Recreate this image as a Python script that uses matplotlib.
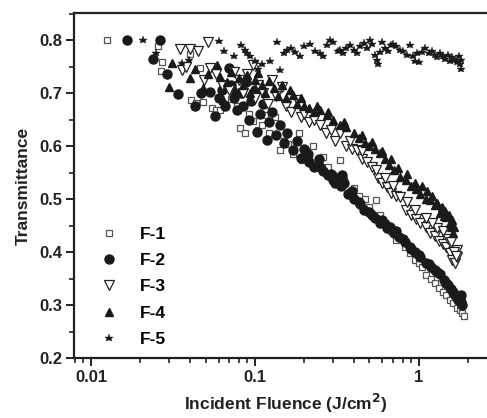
import matplotlib
matplotlib.use("Agg")
import matplotlib.pyplot as plt
from matplotlib.ticker import FixedLocator, FuncFormatter, MultipleLocator

plt.rcParams['font.family'] = ['Liberation Sans', 'DejaVu Sans']
plt.rcParams['font.weight'] = 'bold'

# --- data (fluence in J/cm^2, transmittance) ---
f1_x = [0.0125, 0.0256, 0.0267, 0.0271, 0.040, 0.046, 0.041, 0.044, 0.048, 0.055,
        0.058, 0.061, 0.066, 0.072, 0.078, 0.081, 0.087, 0.092, 0.098, 0.104,
        0.110, 0.115, 0.122, 0.132, 0.142, 0.150, 0.160, 0.170, 0.185, 0.194,
        0.205, 0.215, 0.225, 0.240, 0.260, 0.280, 0.300, 0.330, 0.350, 0.380,
        0.400, 0.430, 0.470, 0.500, 0.550, 0.580, 0.620, 0.680, 0.730, 0.770,
        0.820, 0.880, 0.950, 1.00, 1.05, 1.10, 1.18, 1.25, 1.32, 1.40,
        1.47, 1.55, 1.62, 1.70, 1.78, 1.83, 1.88]
f1_y = [0.800, 0.789, 0.741, 0.758, 0.774, 0.747, 0.687, 0.682, 0.683, 0.672,
        0.668, 0.668, 0.680, 0.689, 0.676, 0.634, 0.625, 0.660, 0.648, 0.630,
        0.640, 0.659, 0.625, 0.655, 0.592, 0.610, 0.603, 0.585, 0.625, 0.574,
        0.590, 0.580, 0.600, 0.565, 0.580, 0.560, 0.545, 0.574, 0.535, 0.513,
        0.520, 0.505, 0.500, 0.485, 0.498, 0.470, 0.455, 0.440, 0.423, 0.426,
        0.410, 0.398, 0.385, 0.379, 0.372, 0.357, 0.350, 0.341, 0.333, 0.325,
        0.319, 0.310, 0.303, 0.294, 0.290, 0.285, 0.279]

f2_x = [0.0165, 0.0262, 0.0239, 0.029, 0.034, 0.043, 0.047, 0.053, 0.057, 0.060,
        0.063, 0.066, 0.070, 0.072, 0.075, 0.078, 0.082, 0.085, 0.088, 0.092,
        0.095, 0.100, 0.103, 0.107, 0.112, 0.118, 0.122, 0.128, 0.135, 0.142,
        0.150, 0.158, 0.170, 0.180, 0.190, 0.200, 0.215, 0.230, 0.245, 0.260,
        0.280, 0.300, 0.320, 0.335, 0.350, 0.370, 0.400, 0.430, 0.460, 0.500,
        0.540, 0.580, 0.620, 0.666, 0.710, 0.760, 0.820, 0.880, 0.950, 1.02,
        1.10, 1.18, 1.25, 1.34, 1.42, 1.50, 1.58, 1.66, 1.74, 1.80, 1.84,
        0.21, 0.25, 0.29, 0.31, 0.34, 0.39, 0.44, 0.52, 0.60, 0.64,
        0.73, 0.80, 0.90, 1.00, 1.15, 1.30, 1.46, 1.62, 1.70, 1.78, 1.82]
f2_y = [0.800, 0.800, 0.764, 0.736, 0.698, 0.675, 0.700, 0.702, 0.657, 0.690,
        0.705, 0.676, 0.747, 0.715, 0.690, 0.668, 0.700, 0.675, 0.720, 0.650,
        0.685, 0.705, 0.626, 0.660, 0.680, 0.611, 0.645, 0.665, 0.621, 0.640,
        0.605, 0.625, 0.592, 0.610, 0.578, 0.595, 0.570, 0.560, 0.575, 0.552,
        0.545, 0.535, 0.540, 0.525, 0.530, 0.510, 0.500, 0.495, 0.480, 0.475,
        0.465, 0.455, 0.452, 0.447, 0.435, 0.428, 0.418, 0.410, 0.400, 0.390,
        0.380, 0.372, 0.366, 0.358, 0.347, 0.338, 0.330, 0.318, 0.310, 0.305, 0.300,
        0.585, 0.560, 0.548, 0.530, 0.545, 0.515, 0.490, 0.470, 0.460, 0.445,
        0.440, 0.425, 0.405, 0.395, 0.378, 0.362, 0.342, 0.325, 0.315, 0.312, 0.318]

f3_x = [0.035, 0.036, 0.038, 0.040, 0.045, 0.049, 0.052, 0.053, 0.058, 0.063,
        0.070, 0.075, 0.080, 0.085, 0.090, 0.097, 0.100, 0.105, 0.112, 0.120,
        0.127, 0.135, 0.146, 0.155, 0.165, 0.180, 0.190, 0.200, 0.215, 0.230,
        0.250, 0.270, 0.290, 0.310, 0.330, 0.360, 0.390, 0.420, 0.450, 0.480,
        0.520, 0.560, 0.600, 0.640, 0.680, 0.730, 0.770, 0.840, 0.900, 0.960,
        1.02, 1.10, 1.17, 1.25, 1.32, 1.40, 1.47, 1.55, 1.60, 1.67, 1.70, 1.72,
        1.30, 1.40, 1.50, 1.58, 1.64, 1.68, 1.20, 1.10, 0.95, 0.85,
        0.70, 0.62, 0.55, 0.45, 0.38]
f3_y = [0.783, 0.743, 0.750, 0.783, 0.779, 0.725, 0.796, 0.747, 0.735, 0.715,
        0.706, 0.740, 0.725, 0.700, 0.735, 0.753, 0.690, 0.715, 0.700, 0.680,
        0.725, 0.695, 0.711, 0.675, 0.665, 0.687, 0.655, 0.660, 0.645, 0.650,
        0.640, 0.625, 0.630, 0.610, 0.625, 0.600, 0.595, 0.592, 0.575, 0.570,
        0.560, 0.540, 0.530, 0.523, 0.512, 0.505, 0.504, 0.479, 0.470, 0.462,
        0.455, 0.448, 0.436, 0.430, 0.420, 0.415, 0.410, 0.398, 0.385, 0.379, 0.404, 0.390,
        0.445, 0.440, 0.425, 0.418, 0.400, 0.392, 0.455, 0.465, 0.480, 0.495,
        0.525, 0.540, 0.555, 0.590, 0.610]

f4_x = [0.030, 0.031, 0.040, 0.043, 0.048, 0.052, 0.059, 0.061, 0.064, 0.068,
        0.072, 0.076, 0.080, 0.085, 0.089, 0.094, 0.100, 0.104, 0.110, 0.116,
        0.122, 0.130, 0.138, 0.146, 0.155, 0.163, 0.170, 0.180, 0.190, 0.200,
        0.215, 0.230, 0.250, 0.275, 0.300, 0.330, 0.360, 0.400, 0.430, 0.470,
        0.500, 0.540, 0.580, 0.620, 0.660, 0.710, 0.770, 0.830, 0.900, 0.960,
        1.02, 1.10, 1.17, 1.25, 1.34, 1.42, 1.47, 1.55, 1.60, 1.62, 1.65,
        1.30, 1.38, 1.45, 1.52, 1.58, 1.20, 1.12, 1.05, 0.95, 0.85,
        0.75, 0.68, 0.60, 0.52, 0.45, 0.35, 0.28, 0.24]
f4_y = [0.711, 0.757, 0.728, 0.745, 0.709, 0.735, 0.753, 0.730, 0.687, 0.720,
        0.740, 0.705, 0.728, 0.715, 0.734, 0.700, 0.725, 0.738, 0.715, 0.700,
        0.722, 0.710, 0.695, 0.715, 0.690, 0.706, 0.696, 0.680, 0.690, 0.675,
        0.672, 0.665, 0.668, 0.658, 0.650, 0.640, 0.635, 0.625, 0.615, 0.605,
        0.600, 0.595, 0.587, 0.575, 0.565, 0.555, 0.542, 0.535, 0.525, 0.518,
        0.510, 0.500, 0.498, 0.488, 0.474, 0.468, 0.466, 0.455, 0.460, 0.436, 0.448,
        0.492, 0.485, 0.478, 0.470, 0.448, 0.505, 0.515, 0.525, 0.530, 0.548,
        0.558, 0.575, 0.590, 0.608, 0.620, 0.645, 0.665, 0.675]

f5_x = [0.0207, 0.0249, 0.0358, 0.0396, 0.0604, 0.0647, 0.075, 0.082, 0.0869, 0.090,
        0.093, 0.100, 0.105, 0.110, 0.123, 0.136, 0.142, 0.150, 0.156, 0.165,
        0.175, 0.188, 0.200, 0.217, 0.233, 0.249, 0.260, 0.275, 0.286, 0.300,
        0.320, 0.330, 0.345, 0.360, 0.380, 0.400, 0.420, 0.438, 0.460, 0.480,
        0.504, 0.520, 0.540, 0.555, 0.565, 0.580, 0.600, 0.620, 0.650, 0.680,
        0.700, 0.730, 0.766, 0.800, 0.850, 0.880, 0.920, 0.944, 0.980, 1.00,
        1.05, 1.09, 1.15, 1.20, 1.25, 1.30, 1.34, 1.40, 1.44, 1.50,
        1.55, 1.60, 1.66, 1.70, 1.75, 1.78, 1.80, 1.82]
f5_y = [0.800, 0.775, 0.757, 0.762, 0.798, 0.779, 0.770, 0.790, 0.781, 0.775,
        0.770, 0.760, 0.745, 0.755, 0.760, 0.796, 0.743, 0.775, 0.781, 0.785,
        0.778, 0.770, 0.788, 0.793, 0.780, 0.776, 0.770, 0.790, 0.800, 0.796,
        0.780, 0.781, 0.776, 0.785, 0.790, 0.782, 0.775, 0.788, 0.795, 0.785,
        0.800, 0.792, 0.772, 0.762, 0.755, 0.778, 0.796, 0.785, 0.780, 0.790,
        0.793, 0.788, 0.781, 0.780, 0.772, 0.790, 0.770, 0.760, 0.775, 0.758,
        0.778, 0.785, 0.775, 0.780, 0.772, 0.768, 0.775, 0.770, 0.765, 0.772,
        0.760, 0.768, 0.762, 0.758, 0.770, 0.755, 0.762, 0.745]

fig = plt.figure(figsize=(4.87, 4.18), dpi=100)
ax = fig.add_axes([0.152, 0.1435, 0.868, 0.8254])

ax.plot(f1_x, f1_y, ls='none', marker='s', ms=4.6, mfc='white', mec='#555555', mew=0.9, label='F-1')
ax.plot(f2_x, f2_y, ls='none', marker='o', ms=6.5, mfc='#1a1a1a', mec='#1a1a1a', label='F-2')
ax.plot(f3_x, f3_y, ls='none', marker='v', ms=6.5, mfc='white', mec='#222222', mew=0.9, label='F-3')
ax.plot(f4_x, f4_y, ls='none', marker='^', ms=6.2, mfc='#1a1a1a', mec='#1a1a1a', label='F-4')
ax.plot(f5_x, f5_y, ls='none', marker='*', ms=6.2, mfc='#1a1a1a', mec='#1a1a1a', mew=0.3, label='F-5')

ax.set_xscale('log')
ax.set_xlim(0.00788, 2.99)
ax.set_ylim(0.2, 0.851)

ax.xaxis.set_major_locator(FixedLocator([0.01, 0.1, 1]))
ax.xaxis.set_major_formatter(FuncFormatter(lambda v, p: '%g' % v))
ax.yaxis.set_major_locator(MultipleLocator(0.1))
ax.yaxis.set_minor_locator(MultipleLocator(0.05))
ax.yaxis.set_major_formatter(FuncFormatter(lambda v, p: '%.1f' % v))

ax.spines['right'].set_visible(False)
for s in ['left', 'bottom', 'top']:
    ax.spines[s].set_linewidth(1.6)
    ax.spines[s].set_color('#222222')
ax.tick_params(which='major', direction='out', length=5.5, width=1.4, labelsize=12, colors='#222222', pad=3)
ax.tick_params(which='minor', direction='out', length=3.5, width=1.2, colors='#222222')
ax.tick_params(top=False, right=False, which='both')

ax.set_xlabel('Incident Fluence (J/cm$^\\mathbf{2}$)', fontsize=12.5, fontweight='bold', color='#222222', labelpad=5)
ax.set_ylabel('Transmittance', fontsize=12.5, fontweight='bold', color='#222222', labelpad=6)

ax.legend(loc='lower left', bbox_to_anchor=(0.04, 0.012), frameon=False, fontsize=12.5,
          handletextpad=1.1, labelspacing=0.64, handlelength=1.3, borderaxespad=0)

fig.savefig('out.png', dpi=100)
